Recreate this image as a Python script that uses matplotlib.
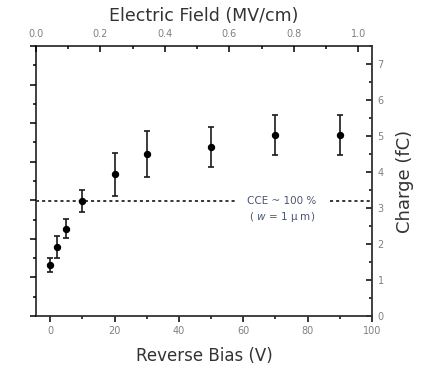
import matplotlib
matplotlib.use("Agg")
import matplotlib.pyplot as plt
from matplotlib.ticker import MultipleLocator

bias = [0, 2, 5, 10, 20, 30, 50, 70, 90]
charge = [1.42, 1.91, 2.43, 3.19, 3.94, 4.5, 4.7, 5.03, 5.03]
err = [0.2, 0.3, 0.27, 0.31, 0.6, 0.65, 0.55, 0.55, 0.55]
cce_level = 3.19
xticks = [0, 20, 40, 60, 80, 100]
yticks = [0, 1, 2, 3, 4, 5, 6, 7]
top_ticks = [0.0, 0.2, 0.4, 0.6, 0.8, 1.0]

tick_col = "#808080"
fig = plt.figure(figsize=(4.23, 3.71), dpi=100)
ax = fig.add_axes([36/423, 1-316/371, (372-36)/423, (316-46)/371])

# left axis (ticks only) created first so twinx does not disturb the right axis
axl = ax.twinx()
axt = ax.twiny()

ax.errorbar(bias, charge, yerr=err, fmt='o', color='black', ms=4.3,
            ecolor='#1a1a1a', elinewidth=1.2, capsize=2.5, capthick=1.2, zorder=3)

ax.set_xlim(-4.4, 100)
ax.set_ylim(0, 7.5)

# dotted CCE line with a gap for the text
ax.plot([-4.4, 58], [cce_level, cce_level], ls=(0, (2, 2)), color='black', lw=1.1)
ax.plot([87, 100], [cce_level, cce_level], ls=(0, (2, 2)), color='black', lw=1.1)
ax.text(72, cce_level, "CCE ~ 100 %", ha='center', va='center', fontsize=7.5,
        color='#4a5670')
ax.text(72, cce_level - 0.44, "( $w$ = 1 μ m)", ha='center', va='center',
        fontsize=7.5, color='#4a5670')

# bottom x axis, right y axis
ax.set_xticks(xticks)
ax.xaxis.set_minor_locator(MultipleLocator(10))
ax.set_yticks(yticks)
ax.yaxis.set_minor_locator(MultipleLocator(0.5))
ax.tick_params(axis='x', which='major', direction='out', length=4, width=1.1,
               labelsize=7, labelcolor=tick_col, pad=3)
ax.tick_params(axis='x', which='minor', direction='out', length=2.5, width=1.1)
ax.tick_params(axis='y', which='major', direction='in', length=4, width=1.1,
               labelsize=7, labelcolor=tick_col, pad=4,
               left=False, labelleft=False, right=True, labelright=True)
ax.tick_params(axis='y', which='minor', direction='in', length=2.5, width=1.1,
               left=False, right=True)
ax.yaxis.set_label_position('right')
ax.set_xlabel("Reverse Bias (V)", fontsize=12, color='#333333', labelpad=8)
ax.set_ylabel("Charge (fC)", fontsize=13, color='#333333', labelpad=9)
for s in ax.spines.values():
    s.set_linewidth(1.3)
    s.set_color('#333333')

axl.set_ylim(0, 7)
axl.yaxis.set_major_locator(MultipleLocator(1))
axl.yaxis.set_minor_locator(MultipleLocator(0.5))
axl.tick_params(axis='y', which='major', direction='out', length=4, width=1.1,
                labelleft=False, labelright=False, right=False, left=True)
axl.tick_params(axis='y', which='minor', direction='out', length=2.5, width=1.1,
                right=False, left=True)
for s in axl.spines.values():
    s.set_visible(False)

# top axis
axt.set_xlim(0, 1.043)
axt.set_xticks(top_ticks)
axt.set_xticklabels([f"{v:.1f}" for v in top_ticks])
axt.xaxis.set_minor_locator(MultipleLocator(0.1))
axt.tick_params(axis='x', which='major', direction='in', length=4, width=1.1,
                labelsize=7, labelcolor=tick_col, pad=5)
axt.tick_params(axis='x', which='minor', direction='in', length=2.5, width=1.1)
axt.set_xlabel("Electric Field (MV/cm)", fontsize=12.5, color='#333333', labelpad=6)
for s in axt.spines.values():
    s.set_visible(False)

fig.savefig("out.png", dpi=100)
